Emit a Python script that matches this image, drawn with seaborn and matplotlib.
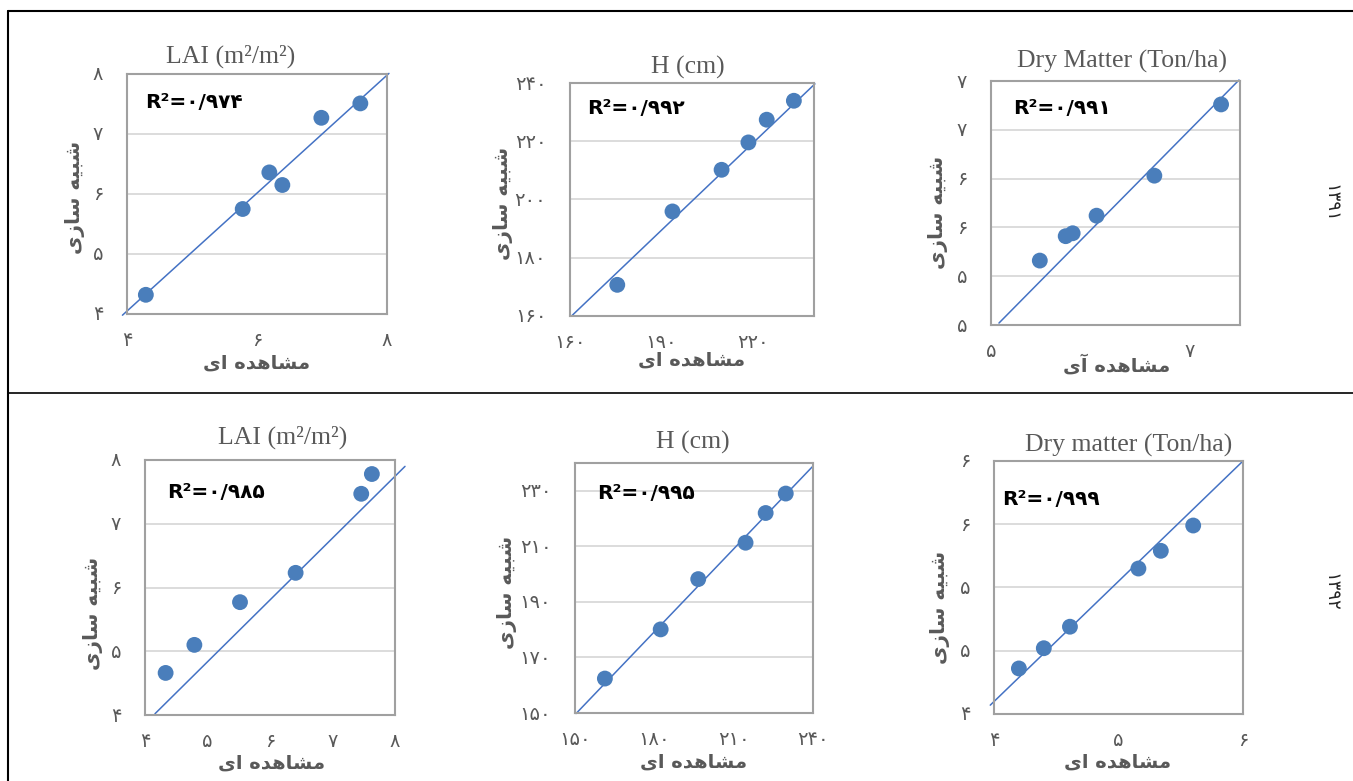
import matplotlib
matplotlib.use("Agg")
import matplotlib.pyplot as plt
import seaborn as sns
from matplotlib.lines import Line2D
from matplotlib.ticker import FixedLocator, FuncFormatter

# داده‌ها (مشاهده‌ای / شبیه‌سازی) - خوانده شده از تصویر
lai_91_obs = [4.29, 5.78, 6.19, 6.39, 6.99, 7.59]
lai_91_sim = [4.32, 5.75, 6.36, 6.15, 7.27, 7.51]
h_91_obs = [175.5, 193.6, 209.7, 218.5, 224.5, 233.4]
h_91_sim = [170.7, 195.9, 210.2, 219.6, 227.4, 233.9]
dm_91_obs = [4.99, 5.25, 5.32, 5.56, 6.14, 6.81]
dm_91_sim = [5.16, 5.41, 5.44, 5.62, 6.03, 6.76]
lai_92_obs = [4.33, 4.79, 5.52, 6.41, 7.46, 7.63]
lai_92_sim = [4.66, 5.10, 5.77, 6.23, 7.47, 7.78]
h_92_obs = [161.3, 182.4, 196.6, 214.5, 222.1, 229.7]
h_92_sim = [162.4, 180.1, 198.2, 211.3, 222.0, 229.0]
dm_92_obs = [4.20, 4.40, 4.61, 5.16, 5.34, 5.60]
dm_92_sim = [4.36, 4.52, 4.69, 5.15, 5.29, 5.49]

# خط ۱:۱ (ابتدا و انتها)
lai_91_line = ([3.93, 8.03], [3.98, 8.01])
h_91_line = ([160.5, 240.3], [160.0, 239.7])
dm_91_line = ([4.58, 6.99], [4.52, 7.01])
lai_92_line = ([4.16, 8.16], [4.02, 7.90])
h_92_line = ([150.4, 239.7], [149.8, 238.6])
dm_92_line = ([3.97, 6.00], [4.07, 6.00])

r2_values = [0.974, 0.992, 0.991, 0.985, 0.995, 0.999]
titles = ["LAI (m²/m²)", "H (cm)", "Dry Matter (Ton/ha)",
          "LAI (m²/m²)", "H (cm)", "Dry matter (Ton/ha)"]
years = ["۱۳۹۱", "۱۳۹۲"]

# متن فارسی به ترتیب نمایشی (حروف شکل‌دار)
xlab = "\uFEEF\uFE8D \uFEE9\uFEAA\uFEEB\uFE8E\uFEB8\uFEE3"
xlab_madda = "\uFEEF\uFE81 \uFEE9\uFEAA\uFEEB\uFE8E\uFEB8\uFEE3"
ylab = "\uFEEF\uFEAF\uFE8E\uFEB3 \uFEEA\uFEF4\uFE92\uFEB7"

FA = "۰۱۲۳۴۵۶۷۸۹"


def fa_digits(s):
    return "".join(FA[int(c)] if c.isdigit() else c for c in s)


def tick_fmt(v, pos):
    return fa_digits(str(int(v + 0.5)))


W, H = 1353, 781
sns.set_style("white")
plt.rcParams["font.family"] = ["Liberation Serif", "DejaVu Sans"]

fig = plt.figure(figsize=(W / 100, H / 100), dpi=100)

panels = [
    dict(obs=lai_91_obs, sim=lai_91_sim, line=lai_91_line, box=(127, 74, 387, 314),
         xlim=(4, 8), ylim=(4, 8), xt=[4, 6, 8], yt=[4, 5, 6, 7, 8],
         title=(231, 56), r2=(145, 102), xl=(257, 363), yl=(75, 197), xlabel=xlab),
    dict(obs=h_91_obs, sim=h_91_sim, line=h_91_line, box=(570, 83, 814, 316),
         xlim=(160, 240), ylim=(160, 240), xt=[160, 190, 220], yt=[160, 180, 200, 220, 240],
         title=(688, 67), r2=(587, 108), xl=(692, 360), yl=(503, 203), xlabel=xlab),
    dict(obs=dm_91_obs, sim=dm_91_sim, line=dm_91_line, box=(991, 81, 1240, 325),
         xlim=(4.5, 7), ylim=(4.5, 7), xt=[4.5, 6.5], yt=[4.5, 5, 5.5, 6, 6.5, 7],
         title=(1122, 61), r2=(1013, 108), xl=(1117, 365), yl=(938, 212), xlabel=xlab_madda),
    dict(obs=lai_92_obs, sim=lai_92_sim, line=lai_92_line, box=(145, 460, 395, 715),
         xlim=(4, 8), ylim=(4, 8), xt=[4, 5, 6, 7, 8], yt=[4, 5, 6, 7, 8],
         title=(283, 437), r2=(167, 492), xl=(272, 763), yl=(93, 613), xlabel=xlab),
    dict(obs=h_92_obs, sim=h_92_sim, line=h_92_line, box=(575, 463, 813, 713),
         xlim=(150, 240), ylim=(150, 240), xt=[150, 180, 210, 240], yt=[150, 170, 190, 210, 230],
         title=(693, 442), r2=(597, 493), xl=(694, 762), yl=(507, 592), xlabel=xlab),
    dict(obs=dm_92_obs, sim=dm_92_sim, line=dm_92_line, box=(994, 461, 1243, 714),
         xlim=(4, 6), ylim=(4, 6), xt=[4, 5, 6], yt=[4, 4.5, 5, 5.5, 6],
         title=(1129, 445), r2=(1002, 500), xl=(1118, 762), yl=(940, 607), xlabel=xlab),
]

dot = "#4A7EBB"
gray = "#595959"

for i, p in enumerate(panels):
    l, t, r, b = p["box"]
    ax = fig.add_axes([l / W, 1 - b / H, (r - l) / W, (b - t) / H])

    def to_ax(px, py):
        return (px - l) / (r - l), (b - py) / (b - t)

    sns.scatterplot(x=p["obs"], y=p["sim"], ax=ax, s=130, color=dot,
                    edgecolor="none", zorder=3, clip_on=False)
    ax.plot(p["line"][0], p["line"][1], color="#4472C4", lw=1.1, zorder=2, clip_on=False)

    ax.set_xlim(*p["xlim"])
    ax.set_ylim(*p["ylim"])
    ax.xaxis.set_major_locator(FixedLocator(p["xt"]))
    ax.yaxis.set_major_locator(FixedLocator(p["yt"]))
    ax.xaxis.set_major_formatter(FuncFormatter(tick_fmt))
    ax.yaxis.set_major_formatter(FuncFormatter(tick_fmt))
    ax.tick_params(length=0, labelsize=14, labelcolor=gray)
    ax.tick_params(axis="x", pad=14)
    ax.tick_params(axis="y", pad=17)
    ax.grid(axis="y", color="#D9D9D9", lw=1.3)
    ax.grid(axis="x", visible=False)
    ax.set_axisbelow(True)
    for s in ax.spines.values():
        s.set_color("#A0A0A0")
        s.set_linewidth(1.5)

    ax.set_xlabel(p["xlabel"], family=["DejaVu Sans"], fontweight="bold",
                  fontsize=14, color=gray, va="center")
    ax.xaxis.set_label_coords(*to_ax(*p["xl"]))
    ax.set_ylabel(ylab, family=["DejaVu Sans"], fontweight="bold",
                  fontsize=14.5, color=gray, va="center")
    ax.yaxis.set_label_coords(*to_ax(*p["yl"]))

    tx, ty = to_ax(*p["title"])
    ax.text(tx, ty, titles[i], transform=ax.transAxes, ha="center", va="center",
            fontsize=18.5, color=gray, family=["Liberation Serif"])
    rx, ry = to_ax(*p["r2"])
    ax.text(rx, ry, "R²=" + fa_digits(f"{r2_values[i]:.3f}".replace(".", "/")),
            transform=ax.transAxes, ha="left", va="center", fontsize=14.5,
            fontweight="bold", color="black", family=["DejaVu Sans"])

# سال‌ها
fig.text(1330 / W, 1 - 203 / H, years[0], rotation=270, ha="center", va="center",
         fontsize=13, family=["DejaVu Sans"])
fig.text(1330 / W, 1 - 592 / H, years[1], rotation=270, ha="center", va="center",
         fontsize=13, family=["DejaVu Sans"])

# خطوط جدول
fig.add_artist(Line2D([8 / W, 1], [1 - 11 / H, 1 - 11 / H], color="black", lw=1.5))
fig.add_artist(Line2D([8 / W, 1], [1 - 393 / H, 1 - 393 / H], color="black", lw=1.2))
fig.add_artist(Line2D([8 / W, 8 / W], [0, 1 - 11 / H], color="black", lw=1.5))

fig.savefig("out.png", dpi=100)
